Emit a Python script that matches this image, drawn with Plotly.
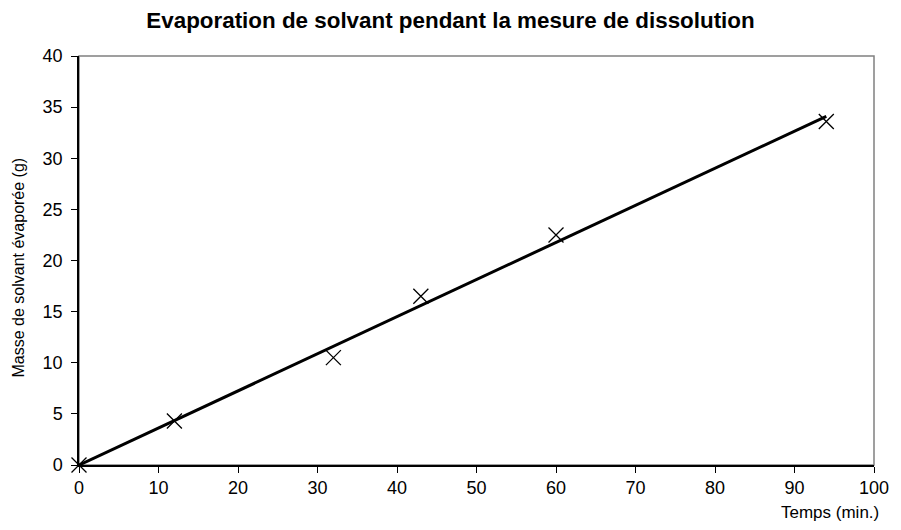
import numpy as np
import plotly.graph_objects as go

# Mesures : temps (min) et masse de solvant évaporée (g)
temps = [0, 12, 32, 43, 60, 94]
masse = [0, 4.3, 10.5, 16.5, 22.5, 33.6]

x_ticks = [0, 10, 20, 30, 40, 50, 60, 70, 80, 90, 100]
y_ticks = [0, 5, 10, 15, 20, 25, 30, 35, 40]

titre = "Evaporation de solvant pendant la mesure de dissolution"
titre_x = "Temps (min.)"
titre_y = "Masse de solvant évaporée (g)"

# Droite de tendance (régression linéaire)
pente, ordonnee = np.polyfit(temps, masse, 1)
tx = [min(temps), max(temps)]
ty = [pente * v + ordonnee for v in tx]

FONT = "Liberation Sans, Arial, sans-serif"

fig = go.Figure()
fig.add_trace(go.Scatter(
    x=tx, y=ty, mode="lines",
    line=dict(color="black", width=3),
    hoverinfo="skip", showlegend=False, cliponaxis=False,
))
fig.add_trace(go.Scatter(
    x=temps, y=masse, mode="markers",
    marker=dict(symbol="x-thin", size=15, line=dict(color="black", width=1.3), color="black"),
    showlegend=False, cliponaxis=False,
))

# Cadre gris de la zone de tracé
fig.add_shape(type="rect", xref="paper", yref="paper", x0=0, y0=0, x1=1, y1=1,
              line=dict(color="#808080", width=1.5), layer="below")

fig.update_layout(
    width=901, height=530,
    margin=dict(l=79, r=21, t=56, b=65),
    paper_bgcolor="white", plot_bgcolor="white",
    font=dict(family=FONT, color="black", size=18),
    title=dict(text="<b>" + titre + "</b>", x=0.5, xref="container",
               y=1 - 20 / 530, yref="container", yanchor="middle",
               font=dict(family=FONT, size=22.4, color="black")),
    showlegend=False,
)
fig.update_xaxes(
    range=[0, 100], tickvals=x_ticks, ticktext=[str(v) for v in x_ticks],
    showgrid=False, zeroline=False, showline=True, linecolor="black", linewidth=1.5,
    ticks="outside", ticklen=6, tickcolor="black", tickwidth=1,
    tickfont=dict(family=FONT, size=18, color="black"),
)
fig.update_yaxes(
    range=[0, 40], tickvals=y_ticks, ticktext=[str(v) for v in y_ticks],
    showgrid=False, zeroline=False, showline=True, linecolor="black", linewidth=1.5,
    ticks="outside", ticklen=6, tickcolor="black", tickwidth=1,
    ticklabelstandoff=5,
    tickfont=dict(family=FONT, size=18, color="black"),
)

fig.add_annotation(text=titre_x, xref="paper", yref="paper", x=1, xshift=7, y=-47 / 409,
                   xanchor="right", yanchor="middle", showarrow=False,
                   font=dict(family=FONT, size=17, color="black"))
fig.add_annotation(text=titre_y, xref="paper", yref="paper", x=(18 - 79) / 801, y=0.484,
                   xanchor="center", yanchor="middle", textangle=-90, showarrow=False,
                   font=dict(family=FONT, size=16, color="black"))

fig.write_html("out.html")
